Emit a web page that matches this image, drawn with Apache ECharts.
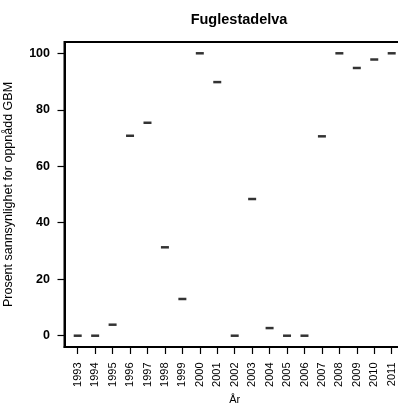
<!DOCTYPE html>
<html>
<head>
<meta charset="utf-8">
<script src="https://cdn.jsdelivr.net/npm/echarts@6/dist/echarts.min.js"></script>
<style>html,body{margin:0;padding:0;background:#fff}#c{width:398px;height:405px}</style>
</head>
<body>
<div id="c"></div>
<script>
var years = ['1993','1994','1995','1996','1997','1998','1999','2000','2001','2002','2003','2004','2005','2006','2007','2008','2009','2010','2011'];
var medians = [0,0,3.9,70.8,75.4,31.3,13.0,100,89.8,0,48.4,2.7,0,0,70.6,100,94.8,97.8,100];
var yTicks = [0,20,40,60,80,100];

var chart = echarts.init(document.getElementById('c'), null, {renderer:'canvas'});
var idx = years.map(function(_, i){ return i; });
var font = 'Liberation Sans, Arial, sans-serif';
chart.setOption({
  animation: false,
  title: {
    text: 'Fuglestadelva', left: 234, top: 7, textAlign: 'center',
    textStyle: {fontFamily: font, fontSize: 14.5, fontWeight: 'bold', color: '#000'}
  },
  grid: {left: 64.5, top: 42, right: -6.9, bottom: 58, outerBoundsMode: 'none', containLabel: false,
    show: true, borderColor: '#000', borderWidth: 2, backgroundColor: 'transparent'},
  xAxis: {
    type: 'value', min: -0.757, max: 18.757,
    name: 'År', nameLocation: 'middle', nameGap: 46,
    nameTextStyle: {fontFamily: font, fontSize: 11, color: '#000'},
    axisLine: {show: true, onZero: false, lineStyle: {color: '#000', width: 2}},
    axisTick: {show: true, length: 7, lineStyle: {color: '#000', width: 1.2}, customValues: idx},
    axisLabel: {customValues: idx, rotate: 90, margin: 15.5, fontFamily: font, fontSize: 11, color: '#000',
      formatter: function(v){ return years[Math.round(v)]; }},
    splitLine: {show: false}
  },
  yAxis: {
    type: 'value', min: -4, max: 104,
    name: 'Prosent sannsynlighet for oppnådd GBM', nameLocation: 'middle', nameGap: 49.5,
    nameTextStyle: {fontFamily: font, fontSize: 12.5, color: '#000'},
    axisLine: {show: true, onZero: false, lineStyle: {color: '#000', width: 2}},
    axisTick: {show: true, length: 7, lineStyle: {color: '#000', width: 1.2}, customValues: yTicks},
    axisLabel: {customValues: yTicks, margin: 14.5, fontFamily: font, fontSize: 12.5, fontWeight: 'bold', color: '#000'},
    splitLine: {show: false}
  },
  series: [{
    type: 'scatter',
    symbol: 'rect', symbolSize: [8, 2.5],
    itemStyle: {color: '#000'},
    data: medians.map(function(v, i){ return [i, v]; })
  }]
});
</script>
</body>
</html>
